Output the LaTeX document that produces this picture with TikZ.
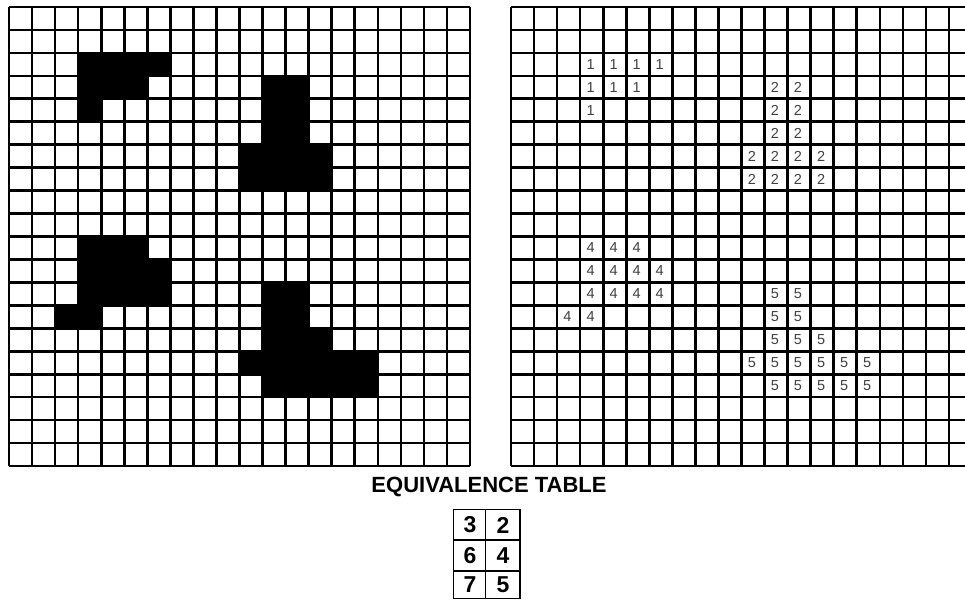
\documentclass[tikz,border=0pt]{standalone}
\usepackage{fontspec}
\setmainfont{Liberation Sans}
\begin{document}
\begin{tikzpicture}[x=1pt,y=-1pt,
  gridline/.style={line width=2.6pt,black},
  num/.style={font=\fontsize{14.5}{14.5}\selectfont,text=black!75,inner sep=0pt},
  tabdigit/.style={font=\bfseries\fontsize{23}{23}\selectfont,inner sep=0pt},
  titletext/.style={font=\bfseries\fontsize{22}{22}\selectfont,inner sep=0pt}]
\useasboundingbox (0,0) rectangle (965,601);
\clip (0,0) rectangle (965,601);
\def\cw{23.05}
\def\ch{22.95}
\def\lx{9}
\def\rx{511}
\def\ty{7}
% black cells of the left grid
\foreach \c/\r in {3/2,4/2,5/2,6/2,3/3,4/3,5/3,3/4,
  11/3,12/3,11/4,12/4,11/5,12/5,10/6,11/6,12/6,13/6,10/7,11/7,12/7,13/7,
  3/10,4/10,5/10,3/11,4/11,5/11,6/11,3/12,4/12,5/12,6/12,2/13,3/13,
  11/12,12/12,11/13,12/13,11/14,12/14,13/14,10/15,11/15,12/15,13/15,14/15,15/15,
  11/16,12/16,13/16,14/16,15/16}
  \fill[black] (\lx+\c*\cw,\ty+\r*\ch) rectangle ++(\cw,\ch);
% grid lines
\foreach \i in {0,...,20}{
  \draw[gridline] (\lx+\i*\cw,\ty) -- (\lx+\i*\cw,\ty+20*\ch);
  \draw[gridline] (\lx,\ty+\i*\ch) -- (\lx+20*\cw,\ty+\i*\ch);
  \draw[gridline] (\rx+\i*\cw,\ty) -- (\rx+\i*\cw,\ty+20*\ch);
  \draw[gridline] (\rx,\ty+\i*\ch) -- (\rx+20*\cw,\ty+\i*\ch);
}
% labels of the right grid
\foreach \c/\r/\n [count=\k] in {3/2/1,4/2/1,5/2/1,6/2/1,3/3/1,4/3/1,5/3/1,3/4/1,
  11/3/2,12/3/2,11/4/2,12/4/2,11/5/2,12/5/2,10/6/2,11/6/2,12/6/2,13/6/2,10/7/2,11/7/2,12/7/2,13/7/2,
  3/10/4,4/10/4,5/10/4,3/11/4,4/11/4,5/11/4,6/11/4,3/12/4,4/12/4,5/12/4,6/12/4,2/13/4,3/13/4,
  11/12/5,12/12/5,11/13/5,12/13/5,11/14/5,12/14/5,13/14/5,10/15/5,11/15/5,12/15/5,13/15/5,14/15/5,15/15/5,
  11/16/5,12/16/5,13/16/5,14/16/5,15/16/5}
  \node[num] (n\k) at (\rx+\c*\cw+0.45*\cw,\ty+\r*\ch+0.5*\ch) {\n};
% title
\node[titletext] (title) at (489,487) {EQUIVALENCE TABLE};
% equivalence table
\draw[line width=1.5pt] (453.3,509.3) rectangle (520,598.3);
\draw[line width=1.5pt] (485.7,509.3) -- (485.7,598.3);
\draw[line width=1.5pt] (453.3,540) -- (520,540);
\draw[line width=1.5pt] (453.3,571) -- (520,571);
\node[tabdigit] (t11) at (470,525) {3};
\node[tabdigit] (t12) at (503,525) {2};
\node[tabdigit] (t21) at (470,556) {6};
\node[tabdigit] (t22) at (503,556) {4};
\node[tabdigit] (t31) at (470,585) {7};
\node[tabdigit] (t32) at (503,585) {5};
\end{tikzpicture}
\end{document}
